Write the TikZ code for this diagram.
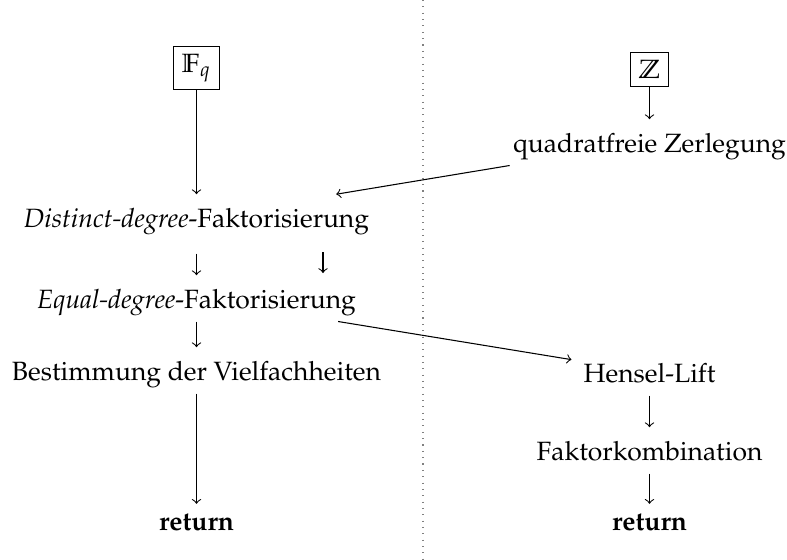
\documentclass[tikz,border=0pt]{standalone}
\usepackage[T1]{fontenc}
\usepackage{mathpazo}
\usepackage{amssymb}
\usetikzlibrary{arrows, positioning}
\tikzstyle{field} = [draw, inner sep=3pt]
\tikzstyle{stage} = [anchor=base, text height=7.8pt, text depth=0.5pt, inner sep=4.4pt]
\tikzstyle{ret} = [stage, text height=5.3pt]
\tikzstyle{arrow} = [->]
\tikzstyle{divider} = [dotted, gray]

\begin{document}
\begin{tikzpicture}[x=0.378pt, y=-0.378pt]
        \useasboundingbox (0,0) rectangle (787,559);
        \draw[divider] (423,0) -- (423,559);
        % finite field
        \node[field] (fq) at (196.5,68) {$\mathbb{F}_q$};
        \node[stage] (dist) at (196.5,227) {\emph{Distinct-degree}-Faktorisierung};
        \node[stage] (equal) at (196.5,308) {\emph{Equal-degree}-Faktorisierung};
        \node[stage] (mult) at (196.5,380) {Bestimmung der Vielfachheiten};
        \node[ret] (retleft) at (196.5,530) {\textbf{return}};
        % integers
        \node[field] (zz) at (649.5,69.5) {$\mathbb{Z}$};
        \node[stage] (sqfree) at (649.5,152) {quadratfreie Zerlegung};
        \node[stage] (hensel) at (649.5,382) {Hensel-Lift};
        \node[stage] (comb) at (649.5,460) {Faktorkombination};
        \node[ret] (retright) at (649.5,530) {\textbf{return}};
        \coordinate (freetop) at (323,252);
        \coordinate (freebot) at (323,273);
        \draw[arrow] (fq) -- (dist);
        \draw[arrow] ([yshift=-5pt]dist.south) -- (equal);
        \draw[arrow] (freetop) -- (freebot);
        \draw[arrow] (equal) -- (mult);
        \draw[arrow] (mult) -- (retleft);
        \draw[arrow] (zz) -- (sqfree);
        \draw[arrow] (sqfree) -- (dist);
        \draw[arrow] (equal) -- (hensel);
        \draw[arrow] (hensel) -- (comb);
        \draw[arrow] (comb) -- (retright);
    \end{tikzpicture}
\end{document}
